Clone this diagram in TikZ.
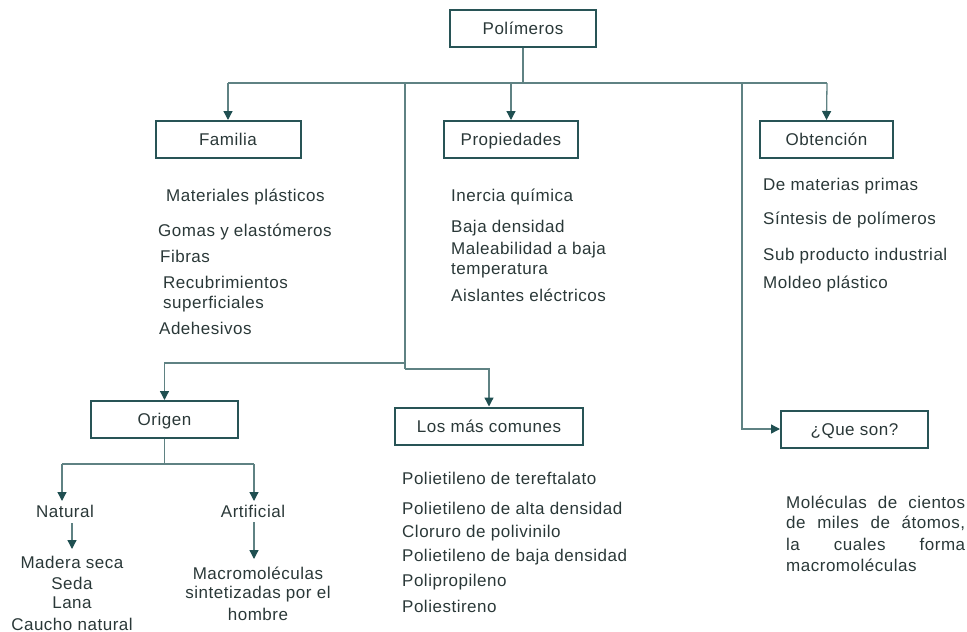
\documentclass[tikz,border=0pt]{standalone}
\usepackage{fontspec}
\setmainfont{Liberation Sans}[LetterSpace=3.0]
\usetikzlibrary{arrows.meta}
\definecolor{boxc}{HTML}{285456}
\definecolor{linec}{HTML}{5F8283}
\definecolor{arrc}{HTML}{1F4F51}
\definecolor{txtc}{HTML}{2A3838}
\begin{document}
\begin{tikzpicture}[x=1pt,y=-1pt,
  every node/.style={font=\fontsize{17}{20}\selectfont, text=txtc},
  boxnode/.style={draw=boxc, line width=2pt, minimum height=37pt, inner sep=0pt, fill=white, text height=15pt, text depth=3pt},
  item/.style={anchor=west, inner sep=0pt},
  citem/.style={anchor=center, inner sep=0pt},
  conn/.style={draw=linec, line width=1.3pt},
  arr/.style={draw=linec, line width=1.3pt, -{Triangle[length=9pt,width=9pt,fill=arrc,color=arrc]}}]
\useasboundingbox (0,0) rectangle (967,632);
% boxes
\node[boxnode, minimum width=146pt] (pol) at (523,28) {Polímeros};
\node[boxnode, minimum width=145pt] (fam) at (228,139.5) {Familia};
\node[boxnode, minimum width=134pt] (prop) at (511,139.5) {Propiedades};
\node[boxnode, minimum width=133pt] (obt) at (826.5,139.5) {Obtención};
\node[boxnode, minimum width=147pt] (ori) at (164.5,419.5) {Origen};
\node[boxnode, minimum width=188pt] (com) at (489,426) {Los más comunes};
\node[boxnode, minimum width=147pt] (que) at (854.5,429) {¿Que son?};
% coordinates
\coordinate (hub) at (523,83);
\coordinate (hl) at (228,83);
\coordinate (hr) at (827,83);
\coordinate (hp) at (511,83);
\coordinate (v1) at (405,83);
\coordinate (v1a) at (405,363);
\coordinate (v1b) at (405,369);
\coordinate (ol) at (164.5,363);
\coordinate (cr) at (489,369);
\coordinate (v2) at (742,83);
\coordinate (v2b) at (742,429);
\coordinate (os) at (164.5,464);
\coordinate (onl) at (62,464);
\coordinate (onr) at (254,464);
\coordinate (natt) at (62,501);
\coordinate (artt) at (254,501);
\coordinate (nat1) at (72,523);
\coordinate (nat2) at (72,549);
\coordinate (art1) at (254,522);
\coordinate (art2) at (254,559);
% connectors
\draw[conn] (pol.south) -- (hub);
\draw[conn] (hl) -- (hr);
\draw[arr] (hl) -- (fam.north);
\draw[arr] (hp) -- (prop.north);
\draw[arr] (hr) -- (obt.north);
\draw[conn] (v1) -- (v1b);
\draw[arr] (v1a) -- (ol) -- (ori.north);
\draw[arr] (v1b) -- (cr) -- (com.north);
\draw[arr] (v2) -- (v2b) -- (que.west);
\draw[conn] (ori.south) -- (os);
\draw[conn] (onl) -- (onr);
\draw[arr] (onl) -- (natt);
\draw[arr] (onr) -- (artt);
\draw[arr] (nat1) -- (nat2);
\draw[arr] (art1) -- (art2);
% Familia items
\node[item] (f1) at (166,197) {Materiales plásticos};
\node[item] (f2) at (158,232) {Gomas y elastómeros};
\node[item] (f3) at (160,256) {Fibras};
\node[item] (f4) at (163,282) {Recubrimientos};
\node[item] (f5) at (163,304) {superficiales};
\node[item] (f6) at (159,328) {Adehesivos};
% Propiedades items
\node[item] (p1) at (451,197) {Inercia química};
\node[item] (p2) at (451,228) {Baja densidad};
\node[item] (p3) at (451,250) {Maleabilidad a baja};
\node[item] (p4) at (451,271) {temperatura};
\node[item] (p5) at (451,295) {Aislantes eléctricos};
% Obtencion items
\node[item] (o1) at (763,186) {De materias primas};
\node[item] (o2) at (763,220) {Síntesis de polímeros};
\node[item] (o3) at (763,256) {Sub producto industrial};
\node[item] (o4) at (763,284) {Moldeo plástico};
% Los mas comunes items
\node[item] (c1) at (402,478) {Polietileno de tereftalato};
\node[item] (c2) at (402,508) {Polietileno de alta densidad};
\node[item] (c3) at (402,533) {Cloruro de polivinilo};
\node[item] (c4) at (402,557) {Polietileno de baja densidad};
\node[item] (c5) at (402,582) {Polipropileno};
\node[item] (c6) at (402,606) {Poliestireno};
% Origen
\node[citem] (nat) at (65,511) {Natural};
\node[citem] (art) at (253,511) {Artificial};
\node[citem] (n1) at (72,562) {Madera seca};
\node[citem] (n2) at (72,583) {Seda};
\node[citem] (n3) at (72,603) {Lana};
\node[citem] (n4) at (72,624) {Caucho natural};
\node[citem] (a1) at (258,573) {Macromoléculas};
\node[citem] (a2) at (258,594) {sintetizadas por el};
\node[citem] (a3) at (258,614) {hombre};
% Que son
\node[item] (q1) at (786,502) {\makebox[179pt][s]{Moléculas de cientos}};
\node[item] (q2) at (786,523) {\makebox[179pt][s]{de miles de átomos,}};
\node[item] (q3) at (786,544) {\makebox[179pt][s]{la cuales forma}};
\node[item] (q4) at (786,565) {macromoléculas};
\end{tikzpicture}
\end{document}
